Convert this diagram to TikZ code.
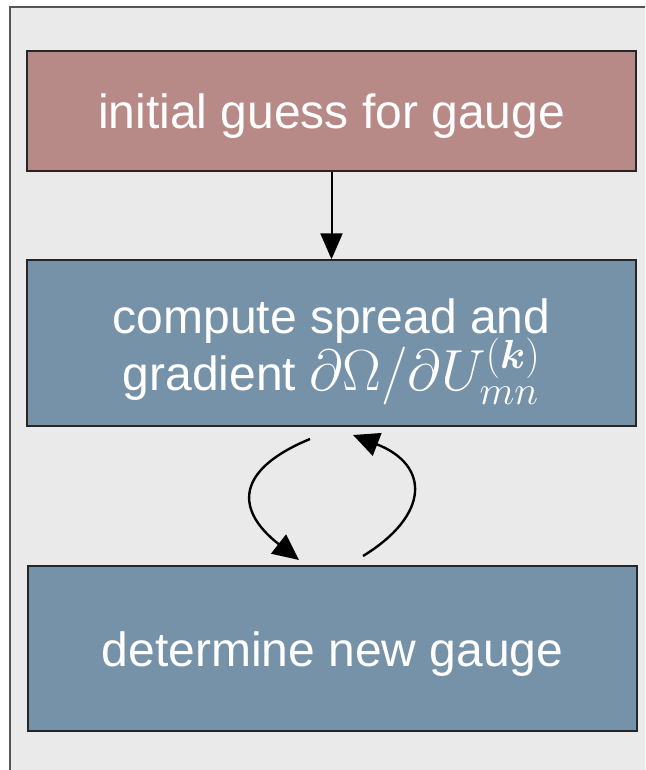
\RequirePackage{fix-cm}
\documentclass[tikz,border=0pt]{standalone}
\usepackage{amsmath}
\usepackage{fontspec}
\setmainfont{Liberation Sans}
\usetikzlibrary{arrows.meta}
\definecolor{bgfill}{RGB}{234,234,234}
\definecolor{framecol}{RGB}{85,85,85}
\definecolor{rosebox}{RGB}{184,138,135}
\definecolor{bluebox}{RGB}{118,146,168}
\newcommand{\boxfont}{\fontsize{48}{57}\selectfont\lineskiplimit=-100pt\relax}
\tikzset{
  flowbox/.style={draw=black!85, line width=1.3pt, minimum width=609pt, inner sep=0pt,
    text=white, align=center, font=\boxfont},
  flowarrow/.style={line width=2.4pt, -{Triangle[length=26pt,width=24pt]}},
}
\begin{document}
\begin{tikzpicture}[x=1pt,y=-1pt]
\useasboundingbox (0,0) rectangle (645,770);
\clip (0,0) rectangle (645,770);
\draw[fill=bgfill, draw=framecol, line width=2pt] (10,7) rectangle (700,820);
\node[flowbox, fill=rosebox, minimum height=120pt, text height=35pt, text depth=0pt] (init) at (331.5,111) {initial guess for gauge};
\node[flowbox, fill=bluebox, minimum height=166pt] (comp) at (331.5,343) {\rule{0pt}{47pt}compute spread and\\gradient \smash{{\fontsize{58}{57}\selectfont$\partial\Omega/\partial U_{mn}^{(\boldsymbol{k})}$}}};
\node[flowbox, fill=bluebox, minimum height=165pt, text height=35pt, text depth=0pt] (det) at (332.5,648.5) {determine new gauge};
\draw[line width=2pt, -{Triangle[length=26pt,width=22pt]}] (init.south) -- (comp.north);
\coordinate (la) at (310,439);
\coordinate (lb) at (299,560);
\coordinate (ra) at (363,556);
\coordinate (rb) at (353,435);
\draw[flowarrow] (la) .. controls (235,470) and (235,510) .. (lb);
\draw[flowarrow] (ra) .. controls (430,515) and (430,465) .. (rb);
\end{tikzpicture}
\end{document}
